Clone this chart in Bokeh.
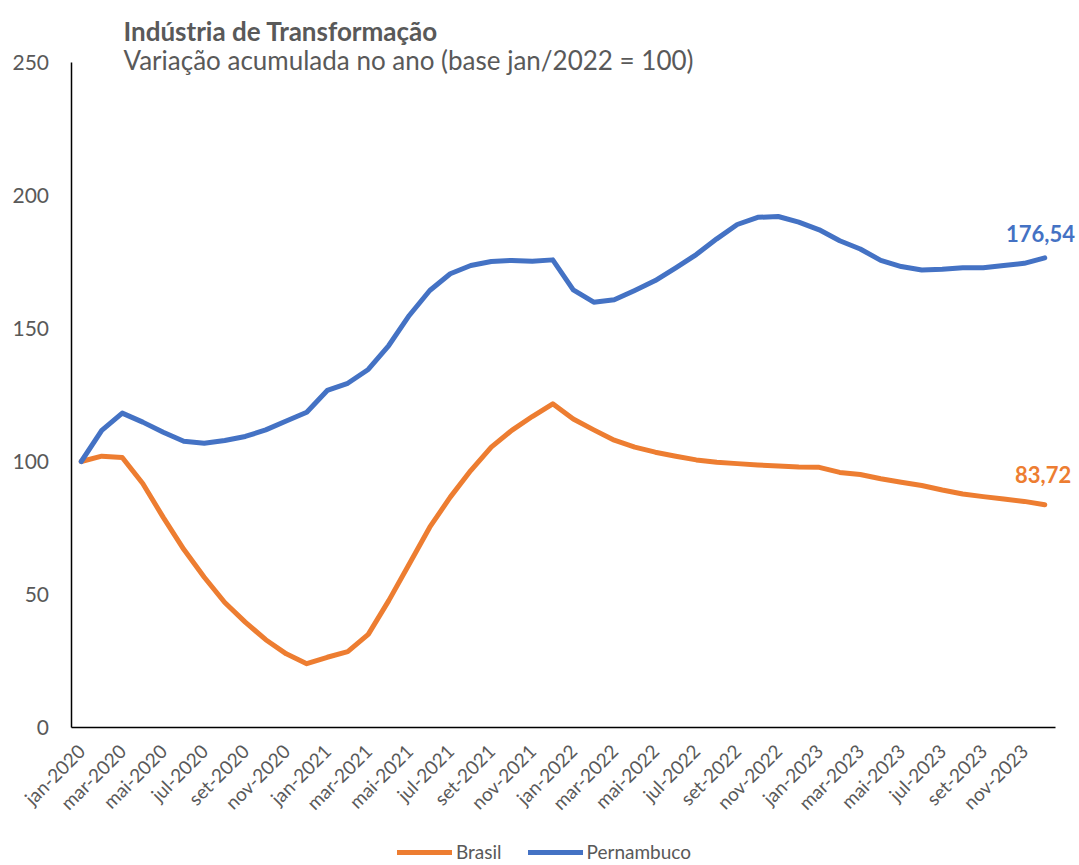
from bokeh.plotting import figure
from bokeh.models import Range1d, FixedTicker, Label, Legend, LegendItem
from bokeh.embed import file_html
from bokeh.resources import INLINE

month_abbr = ["jan", "fev", "mar", "abr", "mai", "jun", "jul", "ago", "set", "out", "nov", "dez"]
years = [2020, 2021, 2022, 2023]
categories = [f"{m}-{y}" for y in years for m in month_abbr]

brasil = [100, 102, 101.5, 91.7, 79, 67, 56.5, 47, 39.6, 33, 27.7, 24,
          26.4, 28.5, 35, 47.7, 61.5, 75.3, 86.6, 96.6, 105.4, 111.7, 116.9, 121.7,
          116, 111.9, 108, 105.4, 103.5, 102, 100.6, 99.7, 99.2, 98.7, 98.3, 97.9,
          97.8, 95.9, 95.1, 93.5, 92.2, 91, 89.3, 87.8, 86.8, 85.9, 85, 83.72]
pernambuco = [100, 111.7, 118.2, 114.8, 111, 107.6, 106.9, 107.9, 109.4, 111.9, 115.2, 118.5,
              126.7, 129.4, 134.6, 143.6, 154.9, 164.3, 170.6, 173.7, 175.2, 175.6, 175.3, 175.8,
              164.5, 159.9, 160.8, 164.3, 168, 172.8, 177.8, 183.7, 189.1, 191.8, 192.1, 190,
              187.1, 183, 179.9, 175.6, 173.3, 172, 172.3, 172.8, 172.8, 173.7, 174.5, 176.54]
y_ticks = [0, 50, 100, 150, 200, 250]

title_text = "Indústria de Transformação"
subtitle_text = "Variação acumulada no ano (base jan/2022 = 100)"

FONT = "Lato"
GREY = "#595959"
ORANGE = "#ED7D31"
BLUE = "#4472C4"

x = list(range(len(categories)))
n = len(categories)

# layout geometry (canvas pixels)
W, H = 1079, 865
AXIS_X = 70.5          # y-axis line, px from canvas left
AXIS_Y = 727           # x-axis line, px from canvas top
PX_X = 20.5            # pixels per month
PX_Y = 2.66            # pixels per index unit

x_start = -0.5 - AXIS_X / PX_X
x_end = -0.5 + (W - AXIS_X) / PX_X
y_end = AXIS_Y / PX_Y
y_start = -(H - AXIS_Y) / PX_Y

p = figure(width=W, height=H, output_backend="svg", toolbar_location=None,
           x_range=Range1d(x_start, x_end), y_range=Range1d(y_start, y_end),
           min_border=0)
p.outline_line_color = None
p.xgrid.grid_line_color = None
p.ygrid.grid_line_color = None

r_br = p.line(x, brasil, line_color=ORANGE, line_width=5, line_join="round", line_cap="round")
r_pe = p.line(x, pernambuco, line_color=BLUE, line_width=5, line_join="round", line_cap="round")

# axes drawn at fixed data locations inside the full-canvas frame
p.xaxis.fixed_location = 0
p.xaxis.bounds = (-0.5, n - 0.5)
p.xaxis.ticker = FixedTicker(ticks=x[::2])
p.xaxis.major_label_overrides = {i: categories[i] for i in x[::2]}
p.xaxis.major_label_orientation = 0.785398
p.xaxis.major_label_text_font = FONT
p.xaxis.major_label_text_font_size = "19px"
p.xaxis.major_label_text_color = GREY
p.xaxis.major_label_standoff = 14
p.xaxis.major_tick_line_color = None
p.xaxis.minor_tick_line_color = None
p.xaxis.axis_line_color = "black"
p.xaxis.axis_line_width = 1.5

p.yaxis.fixed_location = -0.5
p.yaxis.bounds = (0, 250)
p.yaxis.ticker = FixedTicker(ticks=y_ticks)
p.yaxis.major_label_text_font = FONT
p.yaxis.major_label_text_font_size = "21px"
p.yaxis.major_label_text_color = GREY
p.yaxis.major_label_standoff = 16
p.yaxis.major_tick_line_color = None
p.yaxis.minor_tick_line_color = None
p.yaxis.axis_line_color = "black"
p.yaxis.axis_line_width = 1.5

# titles
p.add_layout(Label(x=2.06, y=262.0, text=title_text, text_font=FONT, text_font_style="bold",
                   text_font_size="26px", text_color=GREY, text_baseline="alphabetic", text_align="left"))
p.add_layout(Label(x=2.06, y=251.0, text=subtitle_text, text_font=FONT,
                   text_font_size="26px", text_color=GREY, text_baseline="alphabetic", text_align="left"))

# end labels
p.add_layout(Label(x=46.79, y=185.7, text=f"{pernambuco[-1]:.2f}".replace(".", ","), text_font=FONT,
                   text_font_style="bold", text_font_size="22px", text_color=BLUE,
                   text_baseline="alphabetic", text_align="center"))
p.add_layout(Label(x=46.92, y=95.1, text=f"{brasil[-1]:.2f}".replace(".", ","), text_font=FONT,
                   text_font_style="bold", text_font_size="22px", text_color=ORANGE,
                   text_baseline="alphabetic", text_align="center"))

legend = Legend(items=[LegendItem(label="Brasil", renderers=[r_br]),
                       LegendItem(label="Pernambuco", renderers=[r_pe])],
                orientation="horizontal", location=(397, 2),
                border_line_color=None, background_fill_alpha=0,
                padding=0, margin=0, spacing=26, glyph_width=55, glyph_height=16,
                label_height=16, label_standoff=4, label_text_font=FONT,
                label_text_font_size="19px", label_text_color=GREY)
p.add_layout(legend, "center")

open("out.html", "w").write(file_html(p, INLINE))
